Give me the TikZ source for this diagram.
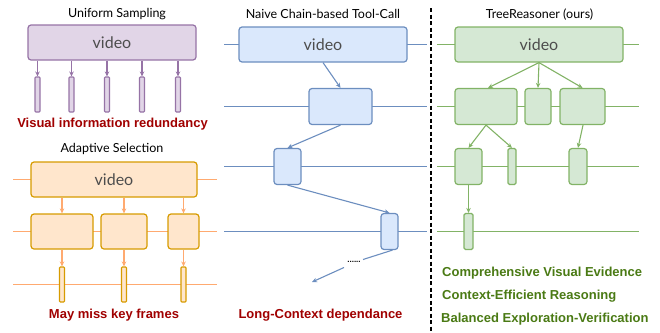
\documentclass[tikz,border=0pt]{standalone}
\usepackage{fontspec}
\setmainfont{Liberation Sans}
\newfontfamily\titlefont{Lato}
\usetikzlibrary{arrows.meta}
\definecolor{pdraw}{HTML}{9673A6}
\definecolor{pfill}{HTML}{E1D5E7}
\definecolor{odraw}{HTML}{D79B00}
\definecolor{ofill}{HTML}{FFE6CC}
\definecolor{oline}{HTML}{FFAA70}
\definecolor{bdraw}{HTML}{6C8EBF}
\definecolor{bfill}{HTML}{DAE8FC}
\definecolor{gdraw}{HTML}{82B366}
\definecolor{gfill}{HTML}{D5E8D4}
\definecolor{redtxt}{HTML}{A00000}
\definecolor{grntxt}{HTML}{4A7A14}
\definecolor{vidtxt}{HTML}{4D4D4D}
\tikzset{
  boxbase/.style={rectangle, rounded corners=3pt, line width=1.2pt, inner sep=0pt, font=\titlefont\fontsize{16}{18}\selectfont, text=vidtxt},
  pbox/.style={boxbase, draw=pdraw, fill=pfill},
  obox/.style={boxbase, draw=odraw, fill=ofill},
  bbox/.style={boxbase, draw=bdraw, fill=bfill},
  gbox/.style={boxbase, draw=gdraw, fill=gfill},
  frm/.style={rectangle, rounded corners=0.8pt, line width=1.1pt, inner sep=0pt, minimum width=5pt, minimum height=35pt},
  sz/.style 2 args={minimum width=#1pt, minimum height=#2pt},
  parr/.style={draw=pdraw, line width=1.1pt, -{Stealth[length=5pt,width=4.5pt]}},
  oarr/.style={draw=oline, line width=1.1pt, -{Stealth[length=5pt,width=4.5pt]}},
  barr/.style={draw=bdraw, line width=1.1pt, -{Stealth[length=5pt,width=4.5pt]}},
  garr/.style={draw=gdraw, line width=1.1pt, -{Stealth[length=5pt,width=4.5pt]}},
  oln/.style={draw=oline, line width=1.1pt},
  bln/.style={draw=bdraw, line width=1.1pt},
  gln/.style={draw=gdraw, line width=1.1pt},
  ttl/.style={font=\titlefont\fontsize{12.5}{14}\selectfont, inner sep=0pt},
  redlab/.style={font=\bfseries\fontsize{13}{15}\selectfont, text=redtxt, inner sep=0pt},
  grnlab/.style={font=\bfseries\fontsize{13}{15}\selectfont, text=grntxt, inner sep=0pt, anchor=west},
}
\begin{document}
\begin{tikzpicture}[x=1pt, y=-1pt]
\useasboundingbox (0,0) rectangle (660,332);

% ---------- Uniform sampling ----------
\node[ttl] (t1) at (117,14) {Uniform Sampling};
\node[pbox, sz={168}{35}] (pv) at (112,42.5) {video};
\foreach \i/\x in {1/37.5,2/71.5,3/107,4/142,5/178}{
  \node[frm, draw=pdraw, fill=pfill] (pf\i) at (\x,94.5) {};
  \draw[parr] (pv.south -| pf\i.north) -- (pf\i.north);
}
\node[redlab] (l1) at (112.5,124) {Visual information redundancy};

% ---------- Adaptive selection ----------
\node[ttl] (t2) at (112,149) {Adaptive Selection};
\coordinate (oL1) at (13,179.5); \coordinate (oR1) at (217,179.5);
\coordinate (oL2) at (13,231.5); \coordinate (oR2) at (217,231.5);
\coordinate (oL3) at (13,284.5); \coordinate (oR3) at (217,284.5);
\draw[oln] (oL1) -- (oR1);
\draw[oln] (oL2) -- (oR2);
\draw[oln] (oL3) -- (oR3);
\node[obox, sz={166}{35}] (ov) at (114,179.5) {video};
\node[obox, sz={62}{35}] (oa1) at (62,231.5) {};
\node[obox, sz={46}{35}] (oa2) at (124,231.5) {};
\node[obox, sz={31}{35}] (oa3) at (183.5,231.5) {};
\foreach \i/\x in {1/62,2/124,3/183.5}{
  \node[frm, draw=odraw, fill=ofill] (of\i) at (\x,284.5) {};
  \draw[oarr] (ov.south -| of\i.north) -- (oa\i.north -| of\i.north);
  \draw[oarr] (oa\i.south -| of\i.north) -- (of\i.north);
}
\node[redlab] (l2) at (114,315) {May miss key frames};

% ---------- Naive chain ----------
\node[ttl] (t3) at (323,14) {Naive Chain-based Tool-Call};
\coordinate (bL1) at (224,44.5); \coordinate (bR1) at (427,44.5);
\coordinate (bL2) at (224,106.5); \coordinate (bR2) at (427,106.5);
\coordinate (bL3) at (224,166.5); \coordinate (bR3) at (427,166.5);
\coordinate (bL4) at (224,231.5); \coordinate (bR4) at (427,231.5);
\draw[bln] (bL1) -- (bR1);
\draw[bln] (bL2) -- (bR2);
\draw[bln] (bL3) -- (bR3);
\draw[bln] (bL4) -- (bR4);
\node[bbox, sz={168}{35}] (bv) at (323,44.5) {video};
\node[bbox, sz={63}{36}] (b2) at (340.5,106.5) {};
\node[bbox, sz={27}{36}] (b3) at (287.5,166.5) {};
\node[bbox, sz={17}{36}] (b4) at (389.5,231.5) {};
\draw[barr] (bv.south) -- (b2.north);
\draw[barr] (b2.south) -- (b3.north);
\draw[barr] (b3.south) -- (b4.north);
\coordinate (g1) at (363,259.5);
\coordinate (g2) at (344,267.5);
\coordinate (bend) at (312,282);
\draw[bln] ([xshift=3pt]b4.south) -- (g1);
\node[inner sep=0pt, font=\bfseries\fontsize{8}{8}\selectfont] (dots) at (354,262) {......};
\draw[barr] (g2) -- (bend);
\node[redlab] (l3) at (320.5,315) {Long-Context dependance};

% ---------- divider ----------
\coordinate (dT) at (431,8); \coordinate (dB) at (431,332);
\draw[line width=1.4pt, dash pattern=on 4pt off 2.5pt] (dT) -- (dB);

% ---------- TreeReasoner ----------
\node[ttl] (t4) at (539.5,15) {TreeReasoner (ours)};
\coordinate (gL1) at (437,44.5); \coordinate (gR1) at (639,44.5);
\coordinate (gL2) at (437,106.5); \coordinate (gR2) at (639,106.5);
\coordinate (gL3) at (437,166.5); \coordinate (gR3) at (639,166.5);
\coordinate (gL4) at (437,231.5); \coordinate (gR4) at (639,231.5);
\draw[gln] (gL1) -- (gR1);
\draw[gln] (gL2) -- (gR2);
\draw[gln] (gL3) -- (gR3);
\draw[gln] (gL4) -- (gR4);
\node[gbox, sz={168}{35}] (gv) at (539,44.5) {video};
\node[gbox, sz={62}{36}] (ga1) at (486,106.5) {};
\node[gbox, sz={26}{36}] (ga2) at (538,106.5) {};
\node[gbox, sz={45}{36}] (ga3) at (582.5,106.5) {};
\node[gbox, sz={27}{36}] (gb1) at (468.5,166.5) {};
\node[gbox, sz={8}{36}, rounded corners=1.5pt] (gb2) at (512,166.5) {};
\node[gbox, sz={18}{36}] (gb3) at (578,166.5) {};
\node[gbox, sz={9}{36}, rounded corners=1.5pt] (gc1) at (468.5,231.5) {};
\draw[garr] (gv.south) -- ([xshift=2pt]ga1.north);
\draw[garr] (gv.south) -- (ga2.north);
\draw[garr] (gv.south) -- (ga3.north);
\draw[garr] (ga1.south) -- (gb1.north);
\draw[garr] (ga1.south) -- (gb2.north);
\draw[garr] ([xshift=0.5pt]ga3.south) -- (gb3.north);
\draw[garr] (gb1.south) -- (gc1.north);
\node[grnlab] (r1) at (442,273) {Comprehensive Visual Evidence};
\node[grnlab] (r2) at (442,296) {Context-Efficient Reasoning};
\node[grnlab] (r3) at (441,319) {Balanced Exploration-Verification};
\end{tikzpicture}
\end{document}
